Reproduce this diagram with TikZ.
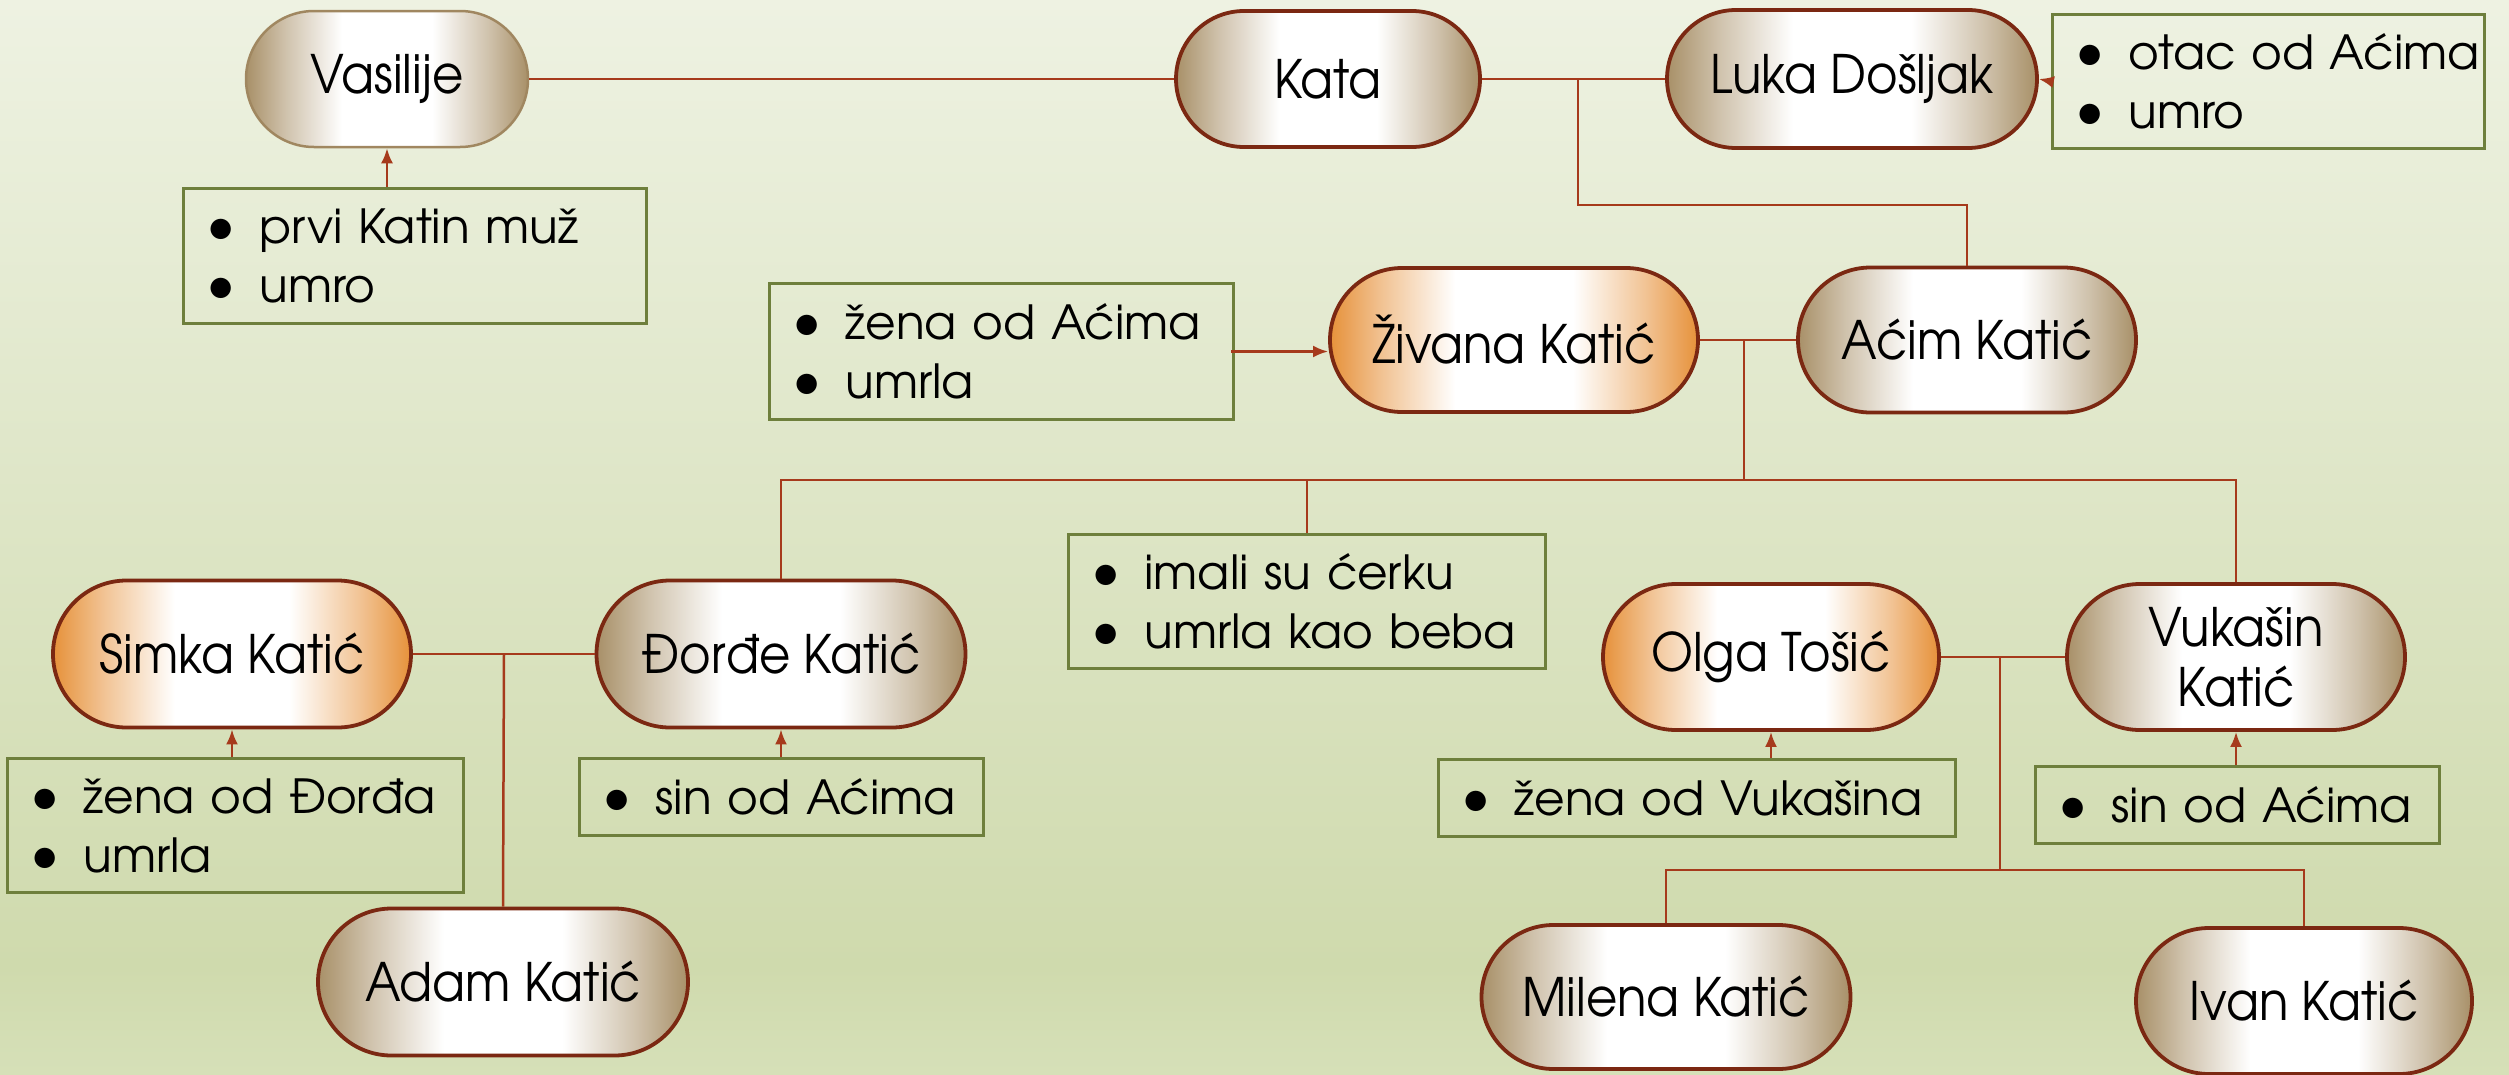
\documentclass[tikz,border=0pt]{standalone}
\usepackage{fontspec}
\setmainfont{TeX Gyre Adventor}
\newfontfamily\pfam[FakeStretch=0.91]{TeX Gyre Adventor}
\usetikzlibrary{arrows.meta,shapes.misc}
\definecolor{brn}{HTML}{A89068}
\definecolor{org}{HTML}{E6913A}
\definecolor{bdr}{HTML}{7B2812}
\definecolor{vbdr}{HTML}{A08760}
\definecolor{cc}{HTML}{A63A1C}
\definecolor{boxc}{HTML}{6E7F3C}
\definecolor{bgtop}{HTML}{EEF2E2}
\definecolor{bgmid}{HTML}{CFDAAD}
\definecolor{bgbot}{HTML}{D6E0B8}
\pgfdeclarehorizontalshading{brownsh}{100bp}{color(0bp)=(brn); color(25bp)=(brn); color(32bp)=(brn!55!white); color(42bp)=(white); color(58bp)=(white); color(68bp)=(brn!55!white); color(75bp)=(brn); color(100bp)=(brn)}
\pgfdeclarehorizontalshading{orangesh}{100bp}{color(0bp)=(org); color(25bp)=(org); color(32bp)=(org!55!white); color(42bp)=(white); color(58bp)=(white); color(68bp)=(org!55!white); color(75bp)=(org); color(100bp)=(org)}
\pgfdeclareverticalshading{bgsh}{100bp}{color(0bp)=(bgbot); color(25bp)=(bgbot); color(30bp)=(bgmid); color(75bp)=(bgtop); color(100bp)=(bgtop)}
\newcommand\mypfont{\pfam\fontsize{53}{60}\selectfont}
\newcommand\mybfont{\fontsize{47}{59}\selectfont}
\newcommand\bul[1]{\mbox{\makebox[46pt][l]{\hspace*{-7pt}\scalebox{1.2}{\textbullet}}#1}}
\tikzset{
  pers/.style={rounded rectangle, draw=bdr, line width=3.8pt, shading=brownsh, inner sep=0pt, font=\mypfont, align=center},
  wife/.style={pers, shading=orangesh},
  nbox/.style={draw=boxc, line width=3pt, inner xsep=30pt, inner ysep=0pt, align=left, anchor=north west, font=\mybfont},
  conn/.style={draw=cc, line width=2.5pt},
  arr/.style={draw=cc, line width=2.5pt, -{Latex[length=15pt,width=12pt]}}
}
\begin{document}
\begin{tikzpicture}[x=1pt,y=-1pt]
\useasboundingbox (0,0) rectangle (2509,1074);
\shade[shading=bgsh] (0,0) rectangle (2509,1074);
% persons
\node[pers, draw=vbdr, line width=2.5pt, minimum width=282pt, minimum height=136pt] (vas) at (387,79) {Vasilije};
\node[pers, minimum width=304pt, minimum height=136pt] (kata) at (1328,79) {Kata};
\node[pers, minimum width=370pt, minimum height=138pt] (luka) at (1852,79) {Luka Došljak};
\node[wife, minimum width=368pt, minimum height=144pt] (ziv) at (1514,340) {Živana Katić};
\node[pers, minimum width=338pt, minimum height=145pt] (acim) at (1967,340) {Aćim Katić};
\node[wife, minimum width=358pt, minimum height=147pt] (sim) at (232,654) {Simka Katić};
\node[pers, minimum width=369pt, minimum height=147pt] (dor) at (781,654) {Đorđe Katić};
\node[pers, minimum width=370pt, minimum height=147pt] (adam) at (503,982) {Adam Katić};
\node[wife, minimum width=336pt, minimum height=146pt] (olga) at (1771,657) {Olga Tošić};
\node[pers, minimum width=338pt, minimum height=146pt] (vuk) at (2236,657) {Vukašin\\Katić};
\node[pers, minimum width=369pt, minimum height=144pt] (mil) at (1666,997) {Milena Katić};
\node[pers, minimum width=336pt, minimum height=146pt] (ivan) at (2304,1001) {Ivan Katić};
% note boxes
\node[nbox, minimum width=432pt, minimum height=134pt, text width=372pt] (otac) at (2051,13) {\bul{otac od Aćima}\\\bul{umro}};
\node[nbox, minimum width=463pt, minimum height=135pt, text width=403pt] (prvi) at (182,187) {\bul{prvi Katin muž}\\\bul{umro}};
\node[nbox, minimum width=464pt, minimum height=136pt, text width=404pt] (zenaA) at (768,282) {\bul{žena od Aćima}\\\bul{umrla}};
\node[nbox, minimum width=477pt, minimum height=134pt, text width=417pt] (imali) at (1067,533) {\bul{imali su ćerku}\\\bul{umrla kao beba}};
\node[nbox, minimum width=456pt, minimum height=134pt, text width=396pt] (zenaD) at (6,757) {\bul{žena od Đorđa}\\\bul{umrla}};
\node[nbox, minimum width=404pt, minimum height=77pt, text width=344pt] (sin1) at (578,757) {\bul{sin od Aćima}};
\node[nbox, minimum width=517pt, minimum height=77pt, text width=457pt] (zenaV) at (1437,758) {\bul{žena od Vukašina}};
\node[nbox, minimum width=404pt, minimum height=77pt, text width=344pt] (sin2) at (2034,765) {\bul{sin od Aćima}};
% junction coordinates
\coordinate (j1) at (1578,79);
\coordinate (j1b) at (1578,205);
\coordinate (j2) at (1744,340);
\coordinate (j2b) at (1744,480);
\coordinate (j3) at (504,654);
\coordinate (j4) at (2000,657);
\coordinate (j4b) at (2000,870);
% couple lines
\draw[conn] (vas.east) -- (kata.west);
\draw[conn] (kata.east) -- (luka.west);
\draw[conn] (j1) -- (j1b) -| (acim.north);
\draw[conn] (ziv.east) -- (acim.west);
\draw[conn] (j2) -- (j2b);
\draw[conn] (dor.north) -- (dor.north |- j2b) -- (vuk.north |- j2b) -- (vuk.north);
\draw[conn] (imali.north) -- (imali.north |- j2b);
\draw[conn] (sim.east) -- (dor.west);
\draw[conn] (j3) -- (adam.north);
\draw[conn] (olga.east) -- (vuk.west);
\draw[conn] (j4) -- (j4b);
\draw[conn] (mil.north) -- (mil.north |- j4b) -- (ivan.north |- j4b) -- (ivan.north);
% note arrows
\draw[arr] (vas.south |- prvi.north) -- (vas.south);
\draw[arr] (otac.west) -- (luka.east);
\draw[arr] ([xshift=-4pt]zenaA.east) -- (ziv.west |- zenaA.east);
\draw[arr] (sim.south |- zenaD.north) -- (sim.south);
\draw[arr] (dor.south |- sin1.north) -- (dor.south);
\draw[arr] (olga.south |- zenaV.north) -- (olga.south);
\draw[arr] (vuk.south |- sin2.north) -- (vuk.south);
\end{tikzpicture}
\end{document}
